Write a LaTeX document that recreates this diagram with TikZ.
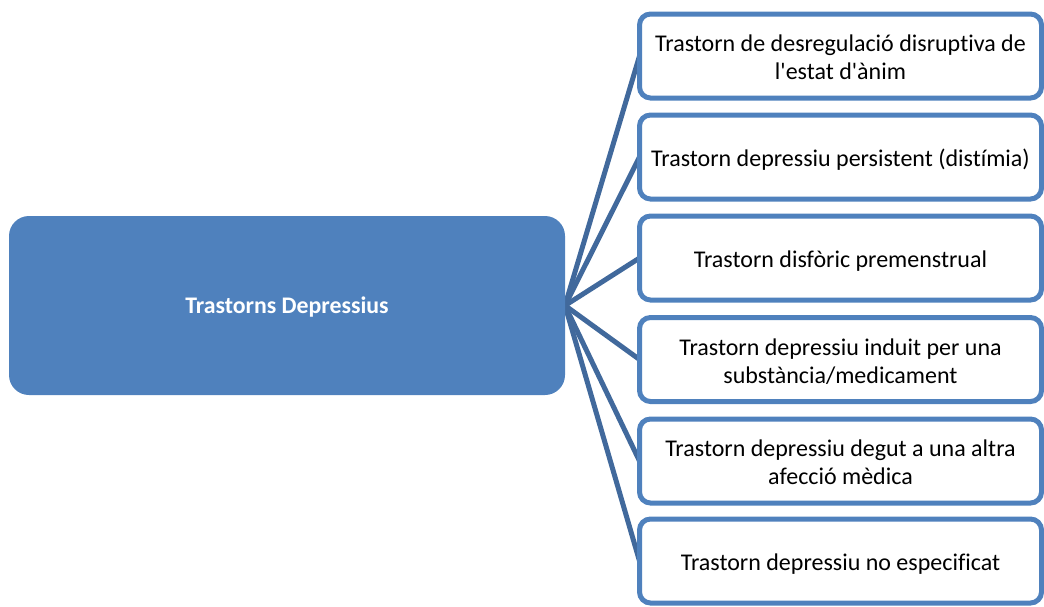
\documentclass[tikz,border=0pt]{standalone}
\usepackage{fontspec}
\setmainfont{Carlito}
% plain quotes and no ti/fi ligatures in the labels
\newfontfamily\labelfont{Carlito}[Ligatures={NoCommon}]
\usetikzlibrary{backgrounds}
\definecolor{accent}{HTML}{4F81BD}
\definecolor{linkblue}{HTML}{41699C}
% centred label lines, drawn a little below the box centre
\newcommand\boxtext[1]{\raisebox{-4pt}[\height][\depth]{\begin{tabular}{@{}c@{}}#1\end{tabular}}}
\tikzset{
  rootbox/.style={fill=accent, draw=none, rounded corners=20pt,
    minimum width=556pt, minimum height=179pt, inner sep=0pt, outer sep=0pt,
    text=white, font=\labelfont\fontsize{23.8}{28}\selectfont\bfseries},
  leafbox/.style={draw=accent, fill=white, line width=5pt, rounded corners=11pt,
    minimum width=402pt, minimum height=84pt, inner sep=0pt, outer sep=0pt,
    anchor=west, font=\labelfont\fontsize{24}{28}\selectfont},
  link/.style={draw=linkblue, line width=5pt}
}
\begin{document}
\begin{tikzpicture}[x=1pt,y=-1pt]
\useasboundingbox (0,0) rectangle (1044,606);
\node[rootbox] (root) at (287,305.5) {\raisebox{-2pt}[\height][\depth]{Trastorns Depressius}};
\node[leafbox] (l1) at (639.5,56) {\boxtext{Trastorn de desregulació disruptiva de\\l'estat d'ànim}};
\node[leafbox] (l2) at (639.5,157) {\boxtext{Trastorn depressiu persistent (distímia)}};
\node[leafbox] (l3) at (639.5,258) {\boxtext{Trastorn disfòric premenstrual}};
\node[leafbox] (l4) at (639.5,359.5) {\boxtext{Trastorn depressiu induit per una\\substància/medicament}};
\node[leafbox] (l5) at (639.5,461) {\boxtext{Trastorn depressiu degut a una altra\\afecció mèdica}};
\node[leafbox] (l6) at (639.5,561) {\boxtext{Trastorn depressiu no especificat}};
\begin{scope}[on background layer]
\foreach \k in {1,...,6}
  \draw[link] (root.east) -- (l\k.west);
\end{scope}
\end{tikzpicture}
\end{document}
